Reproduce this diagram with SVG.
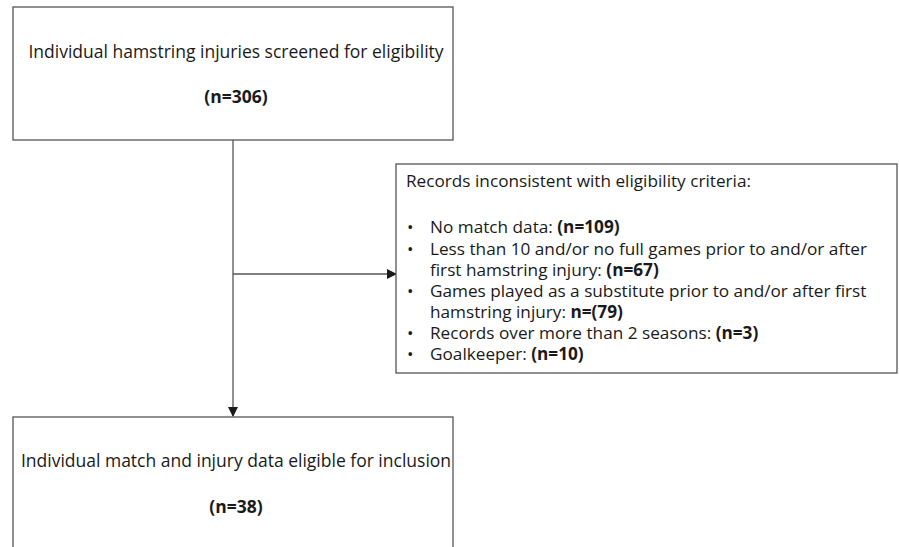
<svg xmlns="http://www.w3.org/2000/svg" width="899" height="547" viewBox="0 0 899 547">
<defs>
<style>
.box{fill:#fff;stroke:#555;stroke-width:1.3}
.t{font-family:"Open Sans","Liberation Sans",sans-serif;font-size:17.5px;fill:#1a1a1a}
.s{font-family:"Open Sans","Liberation Sans",sans-serif;font-size:17.2px;fill:#1a1a1a}
.c{text-anchor:middle}
.b{font-weight:bold}
.ln{stroke:#555;stroke-width:1.3;fill:none}
</style>
<marker id="ah" markerWidth="10" markerHeight="10" refX="9" refY="5" orient="auto" markerUnits="userSpaceOnUse">
<path d="M0,0 L10,5 L0,10 Z" fill="#1a1a1a"/>
</marker>
</defs>
<rect width="899" height="547" fill="#fff"/>
<g id="connectors">
<line class="ln" x1="233" y1="140" x2="233" y2="416" marker-end="url(#ah)"/>
<line class="ln" x1="233" y1="274" x2="396" y2="274" marker-end="url(#ah)"/>
</g>
<g id="screened">
<rect class="box" x="13" y="7" width="440" height="133"/>
<text class="t c" x="236" y="58">Individual hamstring injuries screened for eligibility</text>
<text class="t c b" x="236" y="103">(n=306)</text>
</g>
<g id="excluded">
<rect class="box" x="396" y="164" width="501" height="209"/>
<g class="s">
<text x="406" y="187">Records inconsistent with eligibility criteria:</text>
<text x="407" y="233">•</text><text x="430" y="233">No match data: <tspan class="b">(n=109)</tspan></text>
<text x="407" y="255">•</text><text x="430" y="255">Less than 10 and/or no full games prior to and/or after</text>
<text x="430" y="276">first hamstring injury: <tspan class="b">(n=67)</tspan></text>
<text x="407" y="297">•</text><text x="430" y="297">Games played as a substitute prior to and/or after first</text>
<text x="430" y="318">hamstring injury: <tspan class="b">n=(79)</tspan></text>
<text x="407" y="339">•</text><text x="430" y="339">Records over more than 2 seasons: <tspan class="b">(n=3)</tspan></text>
<text x="407" y="360">•</text><text x="430" y="360">Goalkeeper: <tspan class="b">(n=10)</tspan></text>
</g>
</g>
<g id="eligible">
<rect class="box" x="13" y="417" width="440" height="140"/>
<text class="t c" x="236" y="467">Individual match and injury data eligible for inclusion</text>
<text class="t c b" x="236" y="513">(n=38)</text>
</g>
</svg>
